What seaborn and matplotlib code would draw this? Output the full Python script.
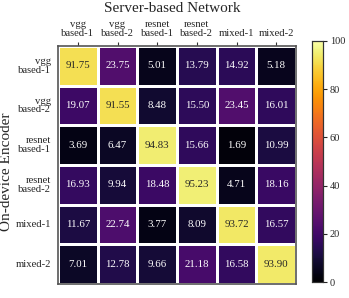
import numpy as np
import pandas as pd
import seaborn as sns
import matplotlib.pyplot as plt

col_labels = ["vgg\nbased-1", "vgg\nbased-2", "resnet\nbased-1", "resnet\nbased-2", "mixed-1", "mixed-2"]
row_labels = ["vgg\nbased-1", "vgg\nbased-2", "resnet\nbased-1", "resnet\nbased-2", "mixed-1", "mixed-2"]

row_vgg1 = [91.75, 23.75, 5.01, 13.79, 14.92, 5.18]
row_vgg2 = [19.07, 91.55, 8.48, 15.50, 23.45, 16.01]
row_res1 = [3.69, 6.47, 94.83, 15.66, 1.69, 10.99]
row_res2 = [16.93, 9.94, 18.48, 95.23, 4.71, 18.16]
row_mix1 = [11.67, 22.74, 3.77, 8.09, 93.72, 16.57]
row_mix2 = [7.01, 12.78, 9.66, 21.18, 16.58, 93.90]

d = pd.DataFrame([row_vgg1, row_vgg2, row_res1, row_res2, row_mix1, row_mix2],
                 index=row_labels, columns=col_labels)

sns.set_theme(style="white")
plt.rcParams['font.family'] = ['Liberation Serif', 'DejaVu Serif']

f = plt.figure(figsize=(3.49, 2.98), dpi=100)
ax = f.add_axes([58/349, 1 - 284/298, 238/349, 238/298])
cax = f.add_axes([312/349, 1 - 282/298, 11/349, 241/298])

heatmap = sns.heatmap(d, ax=ax, cbar_ax=cax, cmap="inferno", vmin=0, vmax=100,
                      annot=True, fmt=".2f", linewidths=2, linecolor="white",
                      annot_kws={"fontsize": 7.8})
ax.xaxis.tick_top()
ax.xaxis.set_label_position("top")
ax.set_xticklabels(col_labels, rotation=0, fontsize=7.7, linespacing=1.0)
ax.set_yticklabels(row_labels, rotation=0, fontsize=7.7, linespacing=1.0)
ax.tick_params(axis="x", length=3, width=0.8, pad=3, color="#333333")
ax.tick_params(axis="y", length=3, width=0.8, pad=2, color="#333333")
ax.set_xlabel("Server-based Network", fontsize=11, va="center")
ax.xaxis.set_label_coords(0.48, 1 + 38/238)
ax.set_ylabel("On-device Encoder", fontsize=11, va="center")
ax.yaxis.set_label_coords(-51/238, 0.47)
for s in ax.spines.values():
    s.set_visible(True)
    s.set_color("#555555")
    s.set_linewidth(1.2)

cax.tick_params(labelsize=7.5, length=3, width=0.8, pad=2)
cax.set_yticks([0, 20, 40, 60, 80, 100])
for s in cax.spines.values():
    s.set_visible(True)
    s.set_color("#333333")
    s.set_linewidth(0.8)

plt.savefig('out.png', dpi=100)
